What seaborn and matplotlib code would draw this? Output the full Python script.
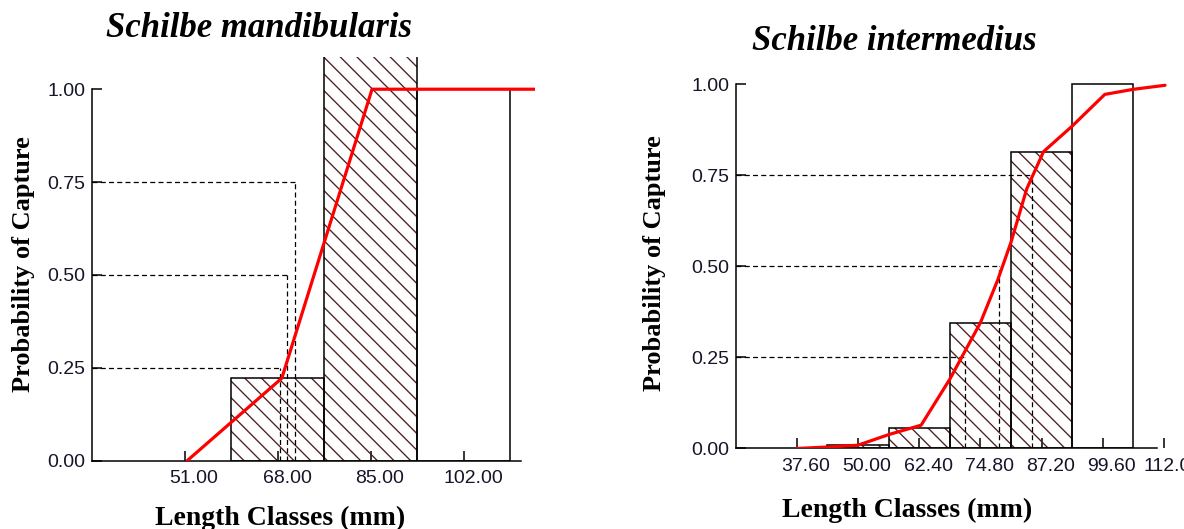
import matplotlib
matplotlib.use("Agg")
import matplotlib.pyplot as plt
import matplotlib.transforms as mtransforms
import numpy as np
import pandas as pd
import seaborn as sns

# ---------------- data ----------------
# Schilbe mandibularis
m_title = "Schilbe mandibularis"
m_ticks = [51.0, 68.0, 85.0, 102.0]
m_width = 17.0
m_hatched_mid = [68.0, 85.0]
m_hatched_h = [0.222, 1.25]
m_open_mid = [102.0]
m_open_h = [1.0]
m_curve_x = [51.4, 68.7, 85.2, 102.0, 119.0]
m_curve_y = [0.0, 0.222, 1.0, 1.0, 1.0]
m_pct = [0.25, 0.50, 0.75]
m_pct_len = [68.4, 69.7, 71.1]

# Schilbe intermedius
i_title = "Schilbe intermedius"
i_ticks = [37.6, 50.0, 62.4, 74.8, 87.2, 99.6, 112.0]
i_width = 12.4
i_hatched_mid = [50.0, 62.4, 74.8, 87.2]
i_hatched_h = [0.009, 0.057, 0.344, 0.815]
i_open_mid = [99.6]
i_open_h = [1.0]
i_curve_x = [37.6, 43.8, 50.0, 56.2, 62.8, 68.6, 74.8, 78.3, 81.0, 84.2, 87.6, 93.4, 100.0, 105.8, 112.2]
i_curve_y = [0.0, 0.004, 0.009, 0.038, 0.064, 0.19, 0.345, 0.462, 0.566, 0.713, 0.815, 0.885, 0.972, 0.986, 0.997]
i_pct = [0.25, 0.50, 0.75]
i_pct_len = [71.7, 78.6, 85.3]

y_ticks = [0.0, 0.25, 0.50, 0.75, 1.00]

# ---------------- style ----------------
sns.set_style("ticks")
plt.rcParams["font.family"] = ["Liberation Sans", "DejaVu Sans"]
plt.rcParams["hatch.linewidth"] = 0.95
HATCH_C = "#4a2020"
TXT_C = "#15152a"

fig = plt.figure(figsize=(11.84, 5.29), dpi=100)
axL = fig.add_axes([0.0777, 0.1291, 0.3742, 0.7637])
axR = fig.add_axes([0.6212, 0.1522, 0.3661, 0.7093])


def draw_bars(ax, mids, heights, width, hatched):
    edges = [float(v) for v in (np.asarray(mids) - width / 2)] + [float(mids[-1] + width / 2)]
    df = pd.DataFrame({"mid": mids, "h": heights})
    layers = []
    n_layers = 2 if hatched else 1
    for k in range(n_layers):
        n0 = len(ax.patches)
        sns.histplot(data=df, x="mid", weights="h", bins=edges, ax=ax, stat="count")
        layers.append(ax.patches[n0:])
    if hatched:
        for p in layers[0]:
            p.set_alpha(1)
            p.set_facecolor("none")
            p.set_edgecolor(HATCH_C)
            p.set_linewidth(0)
            p.set_hatch(r"\\")
            p.set_zorder(1)
    for p in layers[-1]:
        p.set_alpha(1)
        p.set_facecolor("none")
        p.set_edgecolor("black")
        p.set_linewidth(1.1)
        p.set_hatch(None)
        p.set_zorder(1.5)


def panel(ax, hm, hh, om, oh, width, cx, cy, pct, plen, ticks, xlim, ylim,
          spine_end, title_xy, title, xlab_xy, ylab_xy):
    draw_bars(ax, hm, hh, width, True)
    draw_bars(ax, om, oh, width, False)
    ax.hlines(pct, xlim[0], plen, colors="black", linestyles=(0, (4, 2.6)),
              linewidth=0.9, zorder=2)
    ax.vlines(plen, 0, pct, colors="black", linestyles=(0, (4, 2.6)),
              linewidth=0.9, zorder=2)
    sns.lineplot(x=cx, y=cy, ax=ax, color="#ff0000", linewidth=2.3, zorder=3)
    ax.set_xlim(*xlim)
    ax.set_ylim(*ylim)
    sns.despine(ax=ax)
    ax.spines["left"].set_bounds(0, 1)
    ax.spines["bottom"].set_bounds(xlim[0], spine_end)
    for s in ("left", "bottom"):
        ax.spines[s].set_linewidth(1.1)
        ax.spines[s].set_color("black")
    ax.set_xticks(ticks)
    ax.set_xticklabels([f"{t:.2f}" for t in ticks])
    ax.set_yticks(y_ticks)
    ax.set_yticklabels([f"{t:.2f}" for t in y_ticks])
    ax.tick_params(axis="both", direction="in", length=7, width=1.1,
                   color="black", labelsize=14, labelcolor=TXT_C)
    ax.tick_params(axis="x", pad=6.5)
    ax.tick_params(axis="y", pad=4.5)
    off = mtransforms.ScaledTranslation(9 / 100, 0, fig.dpi_scale_trans)
    for lab in ax.get_xticklabels():
        lab.set_transform(lab.get_transform() + off)
    ax.set_xlabel("Length Classes (mm)", family="Liberation Serif",
                  fontweight="bold", fontsize=20, color="black")
    ax.xaxis.label.set_va("baseline")
    ax.xaxis.set_label_coords(*xlab_xy)
    ax.set_ylabel("Probability of Capture", family="Liberation Serif",
                  fontweight="bold", fontsize=19, color="black")
    ax.yaxis.label.set_va("center")
    ax.yaxis.set_label_coords(*ylab_xy)
    fig.text(title_xy[0], title_xy[1], title, family="Liberation Serif",
             fontweight="bold", fontstyle="italic", fontsize=25,
             ha="center", va="baseline", color="black")


panel(axL, m_hatched_mid, m_hatched_h, m_open_mid, m_open_h, m_width,
      m_curve_x, m_curve_y, m_pct, m_pct_len, m_ticks, (34.0, 115.0),
      (0, 1.0875), 112.5, (259 / 1184, 1 - 36.7 / 529), m_title,
      (0.424, -0.159), (-0.155, 0.487))
panel(axR, i_hatched_mid, i_hatched_h, i_open_mid, i_open_h, i_width,
      i_curve_x, i_curve_y, i_pct, i_pct_len, i_ticks, (25.2, 113.0),
      (0, 1.03), 110.6, (894 / 1184, 1 - 50.5 / 529), i_title,
      (0.397, -0.182), (-0.188, 0.493))

fig.savefig("out.png", dpi=100)
